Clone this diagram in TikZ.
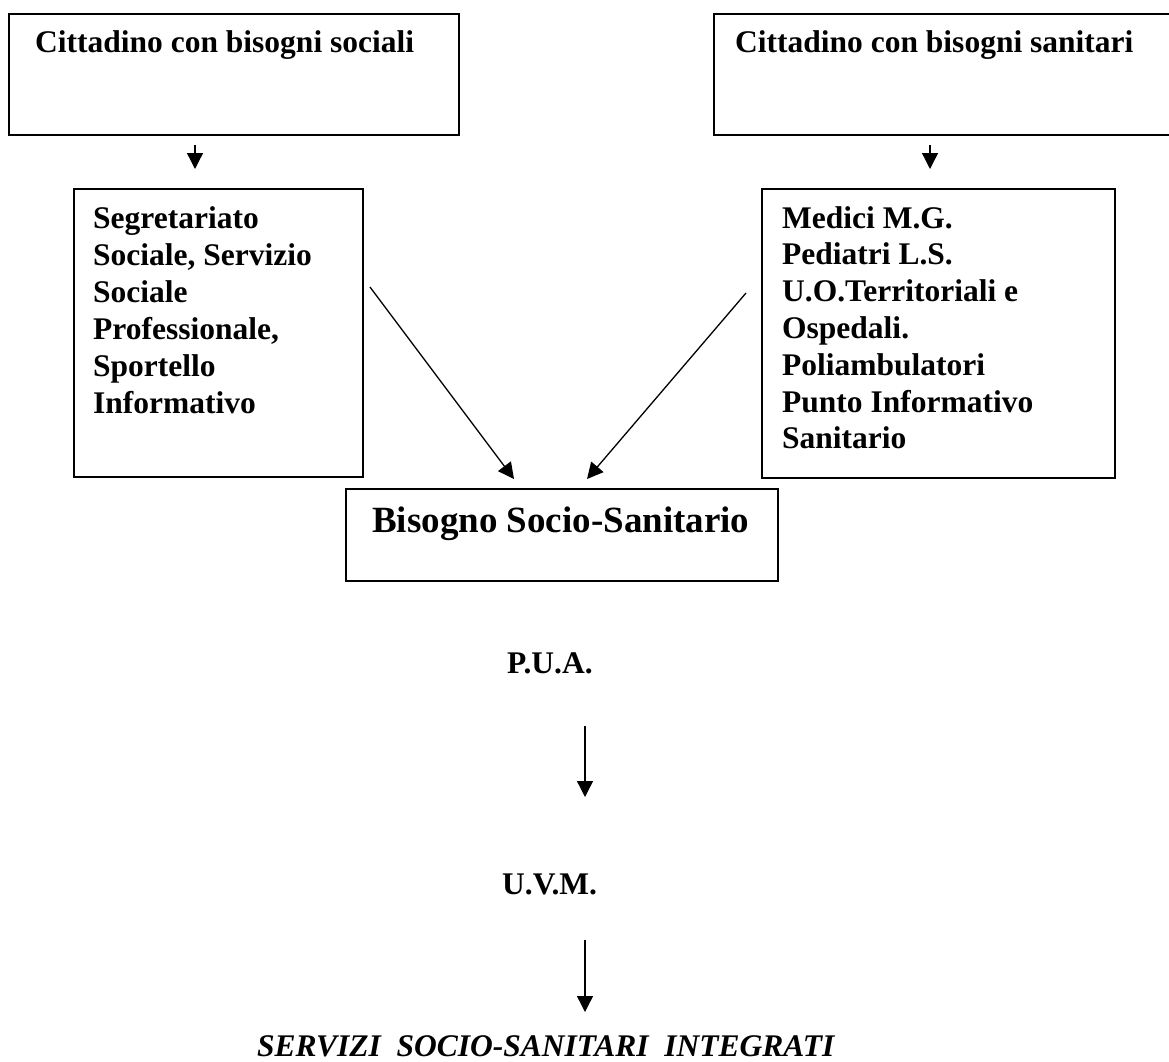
\documentclass[tikz,border=0pt]{standalone}
\usepackage{fontspec}
\setmainfont{Liberation Serif}
\usetikzlibrary{arrows.meta}
\tikzset{
  boxshape/.style={draw=black, line width=1.6pt, rectangle, inner sep=0pt, anchor=north west},
  txt/.style={inner sep=0pt, anchor=base west, font=\fontsize{31.5}{36.8}\selectfont\bfseries},
  bigtxt/.style={inner sep=0pt, anchor=base west, font=\fontsize{37}{42}\selectfont\bfseries},
  ittxt/.style={inner sep=0pt, anchor=base west, font=\fontsize{31.5}{36.8}\selectfont\bfseries\itshape},
  conn/.style={draw=black, line width=1.3pt, -{Triangle[length=16pt,width=16pt]}}
}
\begin{document}
\begin{tikzpicture}[x=1pt,y=-1pt]
\useasboundingbox (0,0) rectangle (1169,1061);
\clip (0,0) rectangle (1169,1061);
% top boxes
\node[boxshape, minimum width=450pt, minimum height=121pt] (b1) at (8,13) {};
\node[txt] (t1) at (35,52) {Cittadino con bisogni sociali};
\node[boxshape, minimum width=470pt, minimum height=121pt] (b2) at (713,13) {};
\node[txt] (t2) at (735,52) {Cittadino con bisogni sanitari};
% second-row boxes
\node[boxshape, minimum width=289pt, minimum height=288pt] (s1) at (73,188) {};
\node[boxshape, minimum width=353pt, minimum height=289pt] (s2) at (761,188) {};
\foreach \l [count=\i from 0] in {Segretariato, {Sociale, Servizio}, Sociale, {Professionale,}, Sportello, Informativo}
  \node[txt] (sl\i) at (93,228+37*\i) {\l};
\foreach \l [count=\i from 0] in {Medici M.G., Pediatri L.S., U.O.Territoriali e, Ospedali., Poliambulatori, Punto Informativo, Sanitario}
  \node[txt] (sr\i) at (782,228+36.8*\i) {\l};
% centre box
\node[boxshape, minimum width=432pt, minimum height=92pt] (c) at (345,488) {};
\node[bigtxt] (ct) at (372,532) {Bisogno Socio-Sanitario};
% lower labels
\node[txt] (pua) at (507,673) {P.U.A.};
\node[txt] (uvm) at (502,894) {U.V.M.};
\node[ittxt] (srv) at (257,1056) {SERVIZI\ \ SOCIO-SANITARI\ \ INTEGRATI};
% connector end points
\coordinate (a1s) at (195,145); \coordinate (a1e) at (195,169);
\coordinate (a2s) at (930,145); \coordinate (a2e) at (930,169);
\coordinate (d1s) at (370,287); \coordinate (d1e) at (514,479);
\coordinate (d2s) at (746,293); \coordinate (d2e) at (587,479);
\coordinate (v1s) at (585,726); \coordinate (v1e) at (585,797);
\coordinate (v2s) at (585,940); \coordinate (v2e) at (585,1012);
\draw[conn] (a1s) -- (a1e);
\draw[conn] (a2s) -- (a2e);
\draw[conn] (d1s) -- (d1e);
\draw[conn] (d2s) -- (d2e);
\draw[conn] (v1s) -- (v1e);
\draw[conn] (v2s) -- (v2e);
\end{tikzpicture}
\end{document}
